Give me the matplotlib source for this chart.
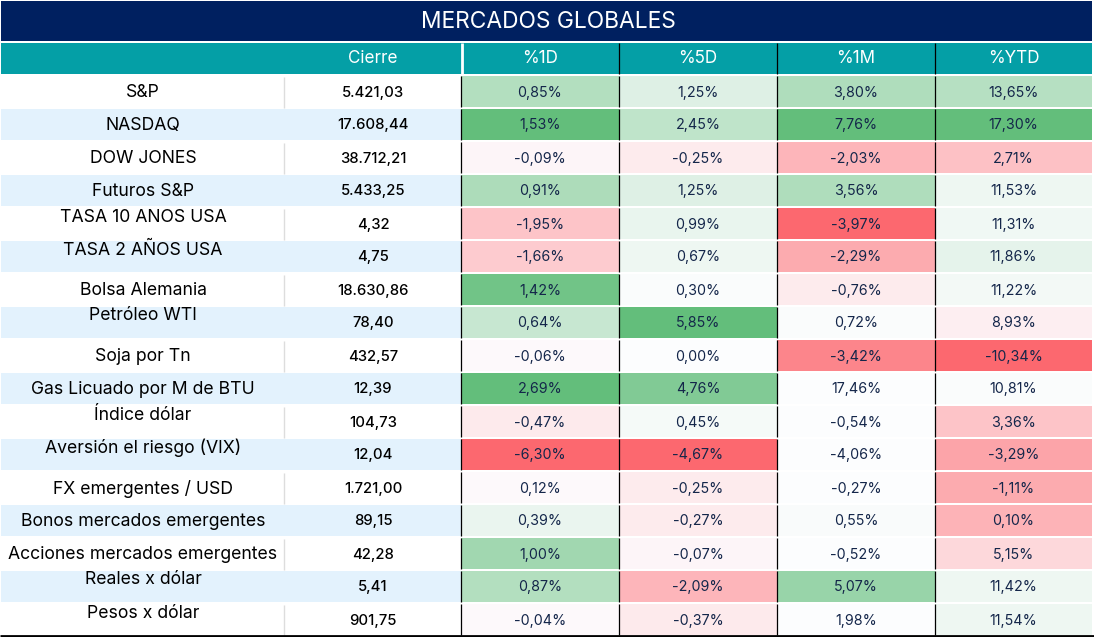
import numpy as np
import matplotlib
matplotlib.use('Agg')
import matplotlib.pyplot as plt
from matplotlib.colors import LinearSegmentedColormap

plt.rcParams['font.family'] = ['Inter', 'DejaVu Sans']

title = 'MERCADOS GLOBALES'
headers = ['', 'Cierre', '%1D', '%5D', '%1M', '%YTD']

names = ['S&P', 'NASDAQ', 'DOW JONES', 'Futuros S&P', 'TASA 10 ANOS USA', 'TASA 2 AÑOS USA',
         'Bolsa Alemania', 'Petróleo WTI', 'Soja por Tn', 'Gas Licuado por M de BTU',
         'Índice dólar', 'Aversión el riesgo (VIX)', 'FX emergentes / USD',
         'Bonos mercados emergentes', 'Acciones mercados emergentes', 'Reales x dólar', 'Pesos x dólar']
cierre = ['5.421,03', '17.608,44', '38.712,21', '5.433,25', '4,32', '4,75', '18.630,86', '78,40',
          '432,57', '12,39', '104,73', '12,04', '1.721,00', '89,15', '42,28', '5,41', '901,75']
pct_1d = ['0,85%', '1,53%', '-0,09%', '0,91%', '-1,95%', '-1,66%', '1,42%', '0,64%', '-0,06%',
          '2,69%', '-0,47%', '-6,30%', '0,12%', '0,39%', '1,00%', '0,87%', '-0,04%']
pct_5d = ['1,25%', '2,45%', '-0,25%', '1,25%', '0,99%', '0,67%', '0,30%', '5,85%', '0,00%',
          '4,76%', '0,45%', '-4,67%', '-0,25%', '-0,27%', '-0,07%', '-2,09%', '-0,37%']
pct_1m = ['3,80%', '7,76%', '-2,03%', '3,56%', '-3,97%', '-2,29%', '-0,76%', '0,72%', '-3,42%',
          '17,46%', '-0,54%', '-4,06%', '-0,27%', '0,55%', '-0,52%', '5,07%', '1,98%']
pct_ytd = ['13,65%', '17,30%', '2,71%', '11,53%', '11,31%', '11,86%', '11,22%', '8,93%', '-10,34%',
           '10,81%', '3,36%', '-3,29%', '-1,11%', '0,10%', '5,15%', '11,42%', '11,54%']

# color scale level of each cell (-1 red, 0 white, 1 green)
heat_1d = [.48, 1, -.05, .52, -.38, -.33, .9, .35, -.03, 1, -.13, -1, -.03, .12, .6, .48, -.03]
heat_5d = [.2, .4, -.12, .2, .13, .1, .02, 1, 0, .8, .05, -1, -.12, -.12, -.05, -.48, -.13]
heat_1m = [.5, 1, -.48, .5, -1, -.55, -.12, .02, -.8, 0, 0, 0, 0, .03, 0, .65, 0]
heat_ytd = [.46, 1, -.4, .1, .08, .15, .07, -.1, -1, .02, -.38, -.6, -.55, -.5, -.25, .1, .1]

# labels that sit high in their row in the original
raised = ['TASA 10 ANOS USA', 'TASA 2 AÑOS USA', 'Petróleo WTI', 'Índice dólar',
          'Aversión el riesgo (VIX)', 'Reales x dólar', 'Pesos x dólar']

col_x = [1, 284, 461, 619, 777, 935, 1092]
row_top = 75.5
row_h = 33.0
nrows = len(names)

cmap = LinearSegmentedColormap.from_list('heat', ['#FC686F', '#FDFDFF', '#63BE7B'])
navy = '#002060'
teal = '#049FA6'
stripe = '#E3F2FD'
dark = '#14264A'

fig = plt.figure(figsize=(10.94, 6.37), dpi=100)
ax = fig.add_axes([0, 0, 1, 1])
ax.set_xlim(0, 1094)
ax.set_ylim(637, 0)
ax.axis('off')

# title and header bands
ax.fill_between([1, 1092], 1, 41, color=navy, lw=0)
ax.text(548, 21.5, title, color='white', fontsize=16.4, ha='center', va='center')
ax.fill_between([1, 1092], 43, 74, color=teal, lw=0)
for i, h in enumerate(headers):
    ax.text((col_x[i] + col_x[i + 1]) / 2, 58.5, h, color='white', fontsize=12.3, ha='center', va='center')
ax.vlines(461.5, 43, 74, color='white', lw=2)
ax.vlines(col_x[3:6], 43, 74, color='black', lw=0.9)

# names and close columns
for r in range(nrows):
    y0 = row_top + r * row_h
    if r % 2 == 1:
        ax.fill_between([1, 461], y0, y0 + row_h - 1.5, color=stripe, lw=0)
    else:
        ax.vlines(284, y0 + 1, y0 + row_h - 1, color='#DDDDDD', lw=1)
    yc = y0 + row_h / 2 - 0.5
    name_y = yc - 6.5 if names[r] in raised else yc + 1
    ax.text(143, name_y, names[r], color='black', fontsize=12.7, ha='center', va='center')
    ax.text(373, yc + 1, cierre[r], color='black', fontsize=10.7, fontweight='medium', ha='center', va='center')

# heat cells
for c, (vals, heat) in enumerate(zip([pct_1d, pct_5d, pct_1m, pct_ytd],
                                     [heat_1d, heat_5d, heat_1m, heat_ytd])):
    x0, x1 = col_x[c + 2], col_x[c + 3]
    for r in range(nrows):
        y0 = row_top + r * row_h
        ax.fill_between([x0, x1], y0 + 0.5, y0 + row_h - 1.5, color=cmap((heat[r] + 1) / 2), lw=0)
        ax.text((x0 + x1) / 2, y0 + row_h / 2 + 0.5, vals[r], color=dark, fontsize=10.3,
                ha='center', va='center')
for x in col_x[2:6]:
    for r in range(nrows):
        y0 = row_top + r * row_h
        ax.vlines(x, y0 + 0.5, y0 + row_h - 1.5, color='black', lw=0.9)

# bottom rule
ax.hlines(635.5, 0, 1094, color='black', lw=2)

fig.savefig('out.png', dpi=100)
